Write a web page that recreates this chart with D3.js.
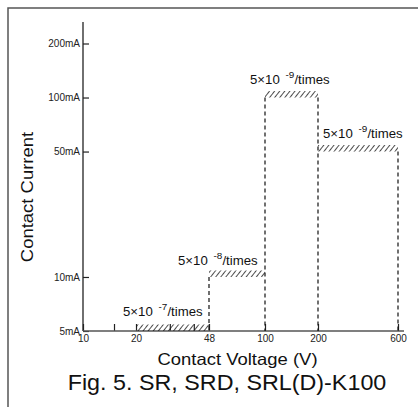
<!DOCTYPE html>
<html>
<head>
<meta charset="utf-8">
<script src="https://cdn.jsdelivr.net/npm/d3@7"></script>
<style>
  body { margin: 0; background: #fff; }
  svg { display: block; font-family: "Liberation Sans", Arial, Helvetica, sans-serif; }
</style>
</head>
<body>
<div id="chart"></div>
<script>
// Contact voltage breakpoints (V) and where they sit on the hand-drawn axis.
var voltTicks = [10, 15, 20, 30, 40, 48, 100, 200, 600],
    voltLabels = ["10", "", "20", "", "", "48", "100", "200", "600"];

// Contact current ticks (mA).
var currentTicks = [5, 10, 50, 100, 200],
    currentLabels = ["5mA", "10mA", "50mA", "100mA", "200mA"];

// Failure-rate steps: voltage span, current level, exponent of rate.
var stepFrom = [20, 48, 100, 200],
    stepTo = [48, 100, 200, 600],
    stepCurrent = [5, 10, 100, 50],
    stepExponent = ["-7", "-8", "-9", "-9"];

var width = 418,
    height = 407;

var svg = d3.select("#chart").append("svg")
  .attr("width", width)
  .attr("height", height);

// Hatch pattern for the step tops.
svg.append("defs").append("pattern")
    .attr("id", "hatch")
    .attr("patternUnits", "userSpaceOnUse")
    .attr("width", 4)
    .attr("height", 4)
    .attr("patternTransform", "rotate(38)")
  .append("line")
    .attr("x1", 0).attr("y1", 0)
    .attr("x2", 0).attr("y2", 4)
    .attr("stroke", "#111")
    .attr("stroke-width", 1.5);

// Frame (top and left edges of the cropped figure box).
svg.append("path")
  .attr("d", "M8,407V8H418")
  .attr("fill", "none")
  .attr("stroke", "#555")
  .attr("stroke-width", 1.5);

// Scales: the x axis of the original is not a clean log axis,
// so use a piecewise log scale through the labelled points.
var x = d3.scaleLog()
  .domain([10, 20, 48, 100, 200, 600])
  .range([83, 136, 209, 265, 318, 398]);

var y = d3.scaleLog()
  .domain([5, 200])
  .range([331, 43.5]);

var yTop = 22, xEnd = 404;

// Y axis
var yAxis = d3.axisLeft(y)
  .tickValues(currentTicks)
  .tickFormat(function (d, i){ return currentLabels[i]; })
  .tickSizeInner(-6)
  .tickSizeOuter(0)
  .tickPadding(3);

var yG = svg.append("g")
  .attr("transform", "translate(" + x(10) + ",0)")
  .call(yAxis);
yG.select(".domain").remove();
yG.selectAll("line").attr("stroke", "#222").attr("stroke-width", 1.2);
yG.selectAll("text")
  .attr("font-size", 10)
  .attr("font-family", "\"Liberation Sans\", Arial, sans-serif")
  .attr("fill", "#222");

svg.append("line")
  .attr("x1", x(10)).attr("x2", x(10))
  .attr("y1", yTop).attr("y2", y(5))
  .attr("stroke", "#222")
  .attr("stroke-width", 1.3);

// X axis
var xAxis = d3.axisBottom(x)
  .tickValues(voltTicks)
  .tickFormat(function (d, i){ return voltLabels[i]; })
  .tickSizeInner(-7)
  .tickSizeOuter(0)
  .tickPadding(4);

var xG = svg.append("g")
  .attr("transform", "translate(0," + y(5) + ")")
  .call(xAxis);
xG.select(".domain").remove();
xG.selectAll("line").attr("stroke", "#222").attr("stroke-width", 1.2);
xG.selectAll("text")
  .attr("font-size", 10)
  .attr("font-family", "\"Liberation Sans\", Arial, sans-serif")
  .attr("fill", "#222");

svg.append("line")
  .attr("x1", x(10)).attr("x2", xEnd)
  .attr("y1", y(5)).attr("y2", y(5))
  .attr("stroke", "#555")
  .attr("stroke-width", 1.6);

// Dashed verticals: each step edge drops from the higher neighbouring level.
var edges = [];
stepFrom.forEach(function (v, i){
  if(i > 0) edges.push({v: v, level: Math.max(stepCurrent[i - 1], stepCurrent[i])});
});
edges.push({v: stepTo[stepTo.length - 1], level: stepCurrent[stepCurrent.length - 1]});

svg.append("g").selectAll("line")
  .data(edges)
  .enter().append("line")
    .attr("x1", function (d){ return x(d.v); })
    .attr("x2", function (d){ return x(d.v); })
    .attr("y1", function (d){ return y(d.level); })
    .attr("y2", y(5))
    .attr("stroke", "#111")
    .attr("stroke-width", 1.2)
    .attr("stroke-dasharray", "4,3");

// Hatched bands on top of each step level.
var hatchH = 6.5;
svg.append("g").selectAll("rect")
  .data(stepFrom)
  .enter().append("rect")
    .attr("x", function (d){ return x(d); })
    .attr("width", function (d, i){ return x(stepTo[i]) - x(d); })
    .attr("y", function (d, i){ return y(stepCurrent[i]) - hatchH; })
    .attr("height", hatchH)
    .attr("fill", "url(#hatch)");

// Rate annotations: 5x10^n/times
var annX = [123, 178, 250, 323],
    annY = [316, 265, 84, 138];

var ann = svg.append("g").selectAll("text")
  .data(stepExponent)
  .enter().append("text")
    .attr("transform", function (d, i){
      return "translate(" + annX[i] + "," + annY[i] + ") scale(1.1,1)";
    })
    .attr("font-size", 12)
    .attr("fill", "#111");
ann.append("tspan").text("5\u00d710 ");
ann.append("tspan")
  .attr("dx", 2)
  .attr("font-size", 9)
  .attr("dy", -6)
  .text(function (d){ return d; });
ann.append("tspan")
  .attr("dy", 6)
  .text("/times");

// Axis titles and caption.
svg.append("text")
  .attr("transform", "translate(33,197) rotate(-90) scale(1.12,1)")
  .attr("text-anchor", "middle")
  .attr("font-size", 16.5)
  .attr("fill", "#111")
  .text("Contact Current");

svg.append("text")
  .attr("transform", "translate(237.5,365) scale(1.12,1)")
  .attr("text-anchor", "middle")
  .attr("font-size", 16.5)
  .attr("fill", "#111")
  .text("Contact Voltage (V)");

svg.append("text")
  .attr("transform", "translate(227,390) scale(1.06,1)")
  .attr("text-anchor", "middle")
  .attr("font-size", 22)
  .attr("fill", "#111")
  .text("Fig. 5. SR, SRD, SRL(D)-K100");
</script>
</body>
</html>
